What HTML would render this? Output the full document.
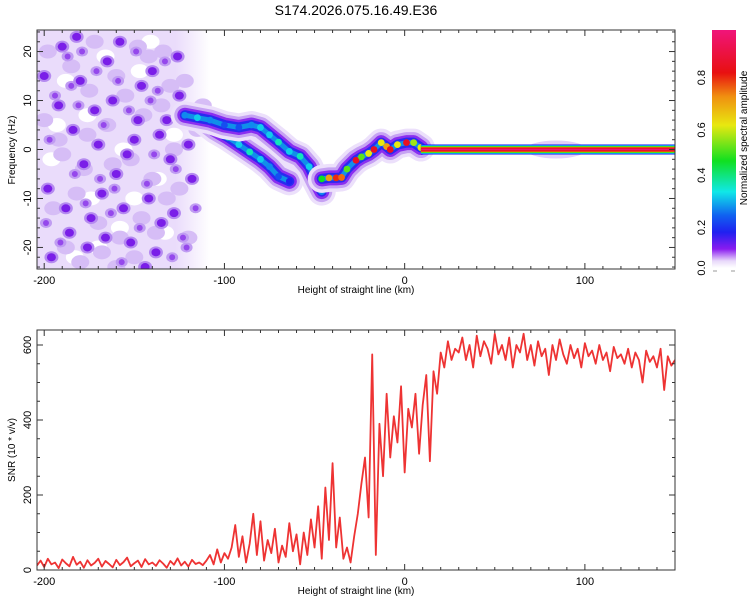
<!DOCTYPE html>
<html><head><meta charset="utf-8"><style>
html,body{margin:0;padding:0;background:#fff;}
svg{display:block;font-family:"Liberation Sans",sans-serif;}
</style></head><body>
<svg id="chart" width="750" height="600" viewBox="0 0 750 600" xmlns="http://www.w3.org/2000/svg">
<defs>
<linearGradient id="cbar" x1="0" y1="1" x2="0" y2="0">
<stop offset="0" stop-color="#ffffff"/><stop offset="0.03" stop-color="#e8d8fa"/><stop offset="0.08" stop-color="#8a1cf0"/>
<stop offset="0.15" stop-color="#2020f0"/><stop offset="0.22" stop-color="#1060f0"/><stop offset="0.32" stop-color="#10e8e8"/>
<stop offset="0.45" stop-color="#10e020"/><stop offset="0.6" stop-color="#e8e810"/><stop offset="0.72" stop-color="#f09010"/>
<stop offset="0.82" stop-color="#e81010"/><stop offset="1" stop-color="#f0147a"/>
</linearGradient>
<linearGradient id="noiseFade" x1="0" y1="0" x2="1" y2="0">
<stop offset="0" stop-color="#eadcfb"/><stop offset="0.8" stop-color="#eadcfb"/><stop offset="1" stop-color="#ffffff"/>
</linearGradient>
<clipPath id="clipTop"><rect x="37" y="30" width="638" height="239"/></clipPath>
<clipPath id="clipBot"><rect x="37" y="330" width="638" height="240"/></clipPath>
</defs>
<text x="356" y="15" font-size="14" text-anchor="middle" fill="#000">S174.2026.075.16.49.E36</text>
<g id="topPanel"></g>
<g id="botPanel"></g>
<g id="cbPanel"></g>
</svg>
<script>
// ---------- data ----------
const xDomain = [-204, 150];
const freqDomain = [-24.4, 24.4];
const snrDomain = [0, 640];
const xTicks = [-200, -100, 0, 100];
const freqTicks = [-20, -10, 0, 10, 20];
const snrTicks = [0, 200, 400, 600];
const cbTicks = ["0.0", "0.2", "0.4", "0.6", "0.8"];
const cbTickVals = [0.0, 0.17, 0.39, 0.58, 0.8];

const upperKm = [-122,-115,-108,-100,-92,-85,-80,-75,-70,-64,-58,-53,-49,-46];
const upperHz = [7,6.5,6,5,4.5,5,4.5,3,1.5,-0.4,-1.4,-3.5,-6.5,-8.6];
const upperAmp = [0.25,0.3,0.25,0.2,0.2,0.25,0.3,0.3,0.35,0.3,0.35,0.3,0.3,0.25];
const lowerKm = [-112,-105,-98,-92,-86,-80,-75,-70,-64];
const lowerHz = [6,4,2.5,1,-0.5,-2,-3.5,-5.5,-6.5];
const lowerAmp = [0.3,0.35,0.35,0.3,0.35,0.3,0.25,0.2,0.15];
const mainKm = [-46,-42,-38,-35,-32,-27,-24,-20,-17,-13,-10,-8,-4,1,5,9];
const mainHz = [-6,-5.8,-5.8,-5.7,-4,-2.2,-1.5,-0.8,0,1.4,0.6,0,1,1.4,1.4,0.4];
const mainAmp = [0.45,0.7,0.8,0.75,0.5,0.85,0.5,0.6,0.85,0.6,0.7,0.85,0.6,0.85,0.55,0.6];
const lineKm = [9, 150];
const lineHz = 0;

const noiseDarkKm = [-190,-180,-172,-168,-160,-150,-146,-140,-135,-130,-125,-196,-186,-176,-165,-156,-142,-132,-120,-200,-198,-184,-178,-162,-152,-138,-128,-148,-170,-192,-158,-126,-118,-144,-188,-174,-136,-154,-182,-166];
const noiseDarkHz = [21,14,8,-9,-5,2,13,16,-15,-2,11,-22,-17,-20,18,-12,-10,6,1,15,-8,4,-3,10,-19,-21,-13,6,1,9,22,19,-6,-24,-12,-14,3,-1,23,-18];
const noiseMedKm = [-194,-183,-171,-163,-153,-143,-133,-123,-197,-187,-177,-167,-157,-147,-137,-127,-191,-181,-169,-159,-149,-139,-129,-116,-199,-179,-161,-141,-121,-185];
const noiseMedHz = [11,-5,16,-13,8,-7,18,-18,2,19,-11,5,-23,-16,12,-4,-19,9,-6,14,20,-1,-22,-12,-15,20,-8,10,-20,13];
const noiseLightKm = [-198,-185,-175,-160,-148,-135,-122,-192,-178,-165,-152,-140,-128,-195,-182,-170,-158,-145,-132,-118,-188,-172,-150,-138,-125,-200,-180,-162,-142,-130,-115,-190,-168,-155,-146,-134,-120,-176,-160,-112];
const noiseLightHz = [20,17,12,15,21,9,14,2,-4,5,-2,-6,0,-12,-9,-15,-18,7,-10,8,-20,22,-22,-17,-8,6,-23,-3,19,13,4,-1,-21,11,-14,20,-18,3,-24,9];
const noiseGapKm = [-193,-174,-156,-137,-183,-166,-147,-128,-196,-176,-158,-141,-188,-170,-150,-133];
const noiseGapHz = [5,-10,0,-6,-22,19,16,3,-2,7,-16,22,14,-20,-10,-17];

const snrVals = [12,25,8,30,15,20,5,28,18,10,35,14,22,6,26,12,19,30,9,24,16,7,27,13,21,33,10,18,25,8,29,15,20,11,26,17,6,24,14,31,12,22,9,27,16,20,13,
25,40,15,55,20,45,30,60,
120,35,90,20,70,150,40,130,25,80,45,110,20,65,35,125,50,95,15,100,40,135,60,170,30,
220,80,285,60,140,
30,60,20,90,150,
230,300,140,575,40,
390,250,470,300,410,340,490,260,
430,380,470,310,440,520,290,530,470,580,540,610,560,590,
580,620,560,600,540,625,570,610,590,550,630,575,600,560,620,540,600,580,630,560,600,545,610,570,590,520,600,560,615,575,550,600,565,590,540,605,570,585,550,600,560,580,530,595,565,575,550,590,540,580,560,500,585,555,570,540,590,480,570,545,560];
const snrStartKm = -204, snrEndKm = 150;

// ---------- helpers ----------
const NS = "http://www.w3.org/2000/svg";
function mk(tag, attrs, parent){ const e=document.createElementNS(NS,tag); for(const k in attrs) e.setAttribute(k,attrs[k]); parent.appendChild(e); return e; }
const X0=37, X1=675;
function xs(km){ return X0 + (km - xDomain[0])/(xDomain[1]-xDomain[0])*(X1-X0); }
const TY0=30, TY1=269;
function ysTop(hz){ return TY1 - (hz - freqDomain[0])/(freqDomain[1]-freqDomain[0])*(TY1-TY0); }
const BY0=330, BY1=570;
function ysBot(v){ return BY1 - (v - snrDomain[0])/(snrDomain[1]-snrDomain[0])*(BY1-BY0); }
const cstops=[[0,[255,255,255]],[0.03,[232,216,250]],[0.08,[138,28,240]],[0.15,[32,32,240]],[0.22,[16,96,240]],[0.32,[16,232,232]],[0.45,[16,224,32]],[0.6,[232,232,16]],[0.72,[240,144,16]],[0.82,[232,16,16]],[1,[240,20,122]]];
function cmap(v){ for(let i=1;i<cstops.length;i++){ if(v<=cstops[i][0]){ const a=cstops[i-1],b=cstops[i],t=(v-a[0])/(b[0]-a[0]); const c=a[1].map((q,j)=>Math.round(q+(b[1][j]-q)*t)); return `rgb(${c})`; } } return "rgb(240,20,122)"; }

const topG=document.getElementById('topPanel'), botG=document.getElementById('botPanel'), cbG=document.getElementById('cbPanel');

// ---------- top panel ----------
const tg = mk('g',{'clip-path':'url(#clipTop)'},topG);


const base = mk('rect',{x:xs(-204),y:TY0,width:xs(-108)-xs(-204),height:TY1-TY0,fill:'url(#noiseFade)'},tg);


noiseGapKm.forEach((k,i)=>{
  const c=mk('ellipse',{cx:xs(k),cy:ysTop(noiseGapHz[i]),rx:9,ry:7,fill:'#ffffff'},tg);
  
  
});
noiseLightKm.forEach((k,i)=>{
  const c=mk('ellipse',{cx:xs(k),cy:ysTop(noiseLightHz[i]),rx:9,ry:7,fill:'#d6bdf6'},tg);
  
  
});
noiseMedKm.forEach((k,i)=>{
  mk('ellipse',{cx:xs(k),cy:ysTop(noiseMedHz[i]),rx:6,ry:5,fill:'#c09cf2'},tg);
  const c=mk('ellipse',{cx:xs(k),cy:ysTop(noiseMedHz[i]),rx:3,ry:3,fill:'#9548ec'},tg);
  
  
});
noiseDarkKm.forEach((k,i)=>{
  mk('ellipse',{cx:xs(k),cy:ysTop(noiseDarkHz[i]),rx:7,ry:6,fill:'#b58af0'},tg);
  const c=mk('ellipse',{cx:xs(k),cy:ysTop(noiseDarkHz[i]),rx:4.5,ry:4,fill:'#7a1ee8'},tg);
  
  
});
function ridge(kmA,hzA,ampA,name){
  const pts=kmA.map((k,i)=>xs(k)+','+ysTop(hzA[i])).join(' ');
  const layers=[[28,'#ece0fb'],[21,'#c6a2f3'],[15,'#8a2ef0'],[10,'#2a2af0'],[5,'#1090e8']];
  layers.forEach(l=>{ mk('polyline',{points:pts,fill:'none',stroke:l[1],'stroke-width':l[0],'stroke-linejoin':'round','stroke-linecap':'round'},tg); });
  kmA.forEach((k,i)=>{
    const d=mk('circle',{cx:xs(k),cy:ysTop(hzA[i]),r:3.4,fill:cmap(ampA[i])},tg);
    
    
  });
}
ridge(lowerKm,lowerHz,lowerAmp,'lower-branch');
ridge(upperKm,upperHz,upperAmp,'upper-branch');
ridge(mainKm,mainHz,mainAmp,'main-ridge');
const halo=mk('ellipse',{cx:xs(84),cy:ysTop(lineHz),rx:30,ry:9,fill:'#e2cff8'},tg);


const lx=xs(lineKm[0]), lw=xs(lineKm[1])-xs(lineKm[0]), ly=ysTop(lineHz);
[[5,'#1010f0'],[4.2,'#10d0f0'],[3.5,'#10e020'],[2.8,'#e8e810'],[2.2,'#e81010'],[0.8,'#f0147a']].forEach(b=>{
  mk('rect',{x:lx,y:ly-b[0],width:lw,height:2*b[0],fill:b[1]},tg);
});
const core=mk('rect',{x:lx,y:ly-0.3,width:lw,height:0.6,fill:'#f0147a'},tg);



function frame(g,y0,y1,yMinorVals,yMajor,ysf){
  mk('rect',{x:X0,y:y0,width:X1-X0,height:y1-y0,fill:'none',stroke:'#333','stroke-width':1},g);
  for(let k=-200;k<=150;k+=10){
    const major = k%100===0, L = major?6:3, x=xs(k);
    mk('line',{x1:x,y1:y1,x2:x,y2:y1-L,stroke:'#333'},g);
    mk('line',{x1:x,y1:y0,x2:x,y2:y0+L,stroke:'#333'},g);
  }
  yMinorVals.forEach(v=>{
    const major=yMajor.includes(v), L=major?6:3, y=ysf(v);
    mk('line',{x1:X0,y1:y,x2:X0+L,y2:y,stroke:'#333'},g);
    mk('line',{x1:X1,y1:y,x2:X1-L,y2:y,stroke:'#333'},g);
  });
  xTicks.forEach(k=>{
    const t=mk('text',{x:xs(k),y:y1+15,'font-size':11,'text-anchor':'middle',fill:'#000'},g);
    t.textContent=k;
    
    
  });
  const xt=mk('text',{x:356,y:y1+24,'font-size':10,'text-anchor':'middle',fill:'#000'},g);
  xt.textContent='Height of straight line (km)';
  
  
}
const fMinor=[]; for(let v=-24;v<=24;v+=2) fMinor.push(v);
frame(topG,TY0,TY1,fMinor,freqTicks,ysTop);
freqTicks.forEach(v=>{
  const y=ysTop(v);
  const t=mk('text',{x:0,y:0,'font-size':11,'text-anchor':'middle',fill:'#000',transform:`translate(31,${y}) rotate(-90)`},topG);
  t.textContent=v;
  
  
});
const yt=mk('text',{x:0,y:0,'font-size':10,'text-anchor':'middle',fill:'#000',transform:`translate(15,150) rotate(-90)`},topG);
yt.textContent='Frequency (Hz)';



// ---------- bottom panel ----------
const bg=mk('g',{'clip-path':'url(#clipBot)'},botG);
const step=(snrEndKm-snrStartKm)/(snrVals.length-1);
const spts=snrVals.map((v,i)=>xs(snrStartKm+i*step)+','+ysBot(v)).join(' ');
const sl=mk('polyline',{points:spts,fill:'none',stroke:'#ee3333','stroke-width':1.8,'stroke-linejoin':'round'},bg);


const sMinor=[]; for(let v=0;v<=600;v+=50) sMinor.push(v);
frame(botG,BY0,BY1,sMinor,snrTicks,ysBot);
snrTicks.forEach(v=>{
  const y=ysBot(v);
  const t=mk('text',{x:0,y:0,'font-size':11,'text-anchor':'middle',fill:'#000',transform:`translate(31,${y}) rotate(-90)`},botG);
  t.textContent=v;
  
  
});
const yt2=mk('text',{x:0,y:0,'font-size':10,'text-anchor':'middle',fill:'#000',transform:`translate(15,450) rotate(-90)`},botG);
yt2.textContent='SNR (10 * v/v)';



// ---------- colorbar ----------
const cbr=mk('rect',{x:712,y:30,width:24,height:238,fill:'url(#cbar)'},cbG);


cbTicks.forEach((lab,i)=>{
  const y=268-cbTickVals[i]*238;
  const t=mk('text',{x:0,y:0,'font-size':11,'text-anchor':'middle',fill:'#000',transform:`translate(705,${y}) rotate(-90)`},cbG);
  t.textContent=lab;
  
  
});
mk('line',{x1:713,y1:271,x2:717,y2:271,stroke:'#999'},cbG);
mk('line',{x1:731,y1:271,x2:735,y2:271,stroke:'#999'},cbG);
const ct=mk('text',{x:0,y:0,'font-size':10,'text-anchor':'middle',fill:'#000',transform:`translate(747,138) rotate(-90)`},cbG);
ct.textContent='Normalized spectral amplitude';


</script>
</body></html>
